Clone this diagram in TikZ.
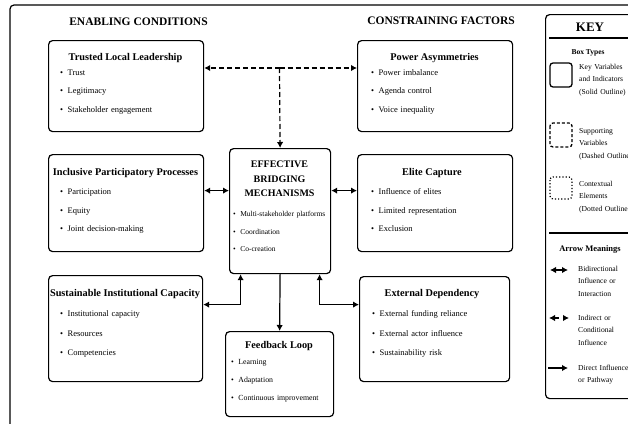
\documentclass[tikz,border=0pt]{standalone}
\usepackage{fontspec}
\setmainfont{Liberation Serif}
\usetikzlibrary{arrows.meta}
\newcommand{\bitem}{\textbullet\hspace{4.5pt}}

\begin{document}
\begin{tikzpicture}[x=1pt,y=-1pt,>={Latex[length=6pt,width=6.5pt]},
  varbox/.style={draw,line width=1.2pt,rounded corners=4pt,anchor=north west,inner sep=0pt},
  boxtitle/.style={font=\bfseries\fontsize{10.3}{14.5}\selectfont,anchor=base,inner sep=0pt},
  bullets/.style 2 args={font=\fontsize{#1}{#2}\selectfont,text width=140pt,align=left,anchor=base west,inner sep=0pt},
  heading/.style={font=\bfseries\fontsize{11.5}{13}\selectfont,anchor=base,inner sep=0pt},
  keytext/.style={font=\fontsize{7.6}{12.5}\selectfont,text width=80pt,align=left,anchor=base west,inner sep=0pt},
  link/.style={line width=1.2pt},
  sample/.style={line width=1.3pt,rounded corners=3pt}]
\useasboundingbox (0,0) rectangle (628,423);
\clip (0,0) rectangle (628,423);
\draw[line width=1.2pt,rounded corners=4pt] (10,5) rectangle (680,432);

\node[heading] (enab) at (138.5,25) {ENABLING CONDITIONS};
\node[heading] (cons) at (441,24) {CONSTRAINING FACTORS};

% enabling side
\node[varbox,minimum width=155pt,minimum height=91pt] (trust) at (48,40) {};
\node[boxtitle] (trustT) at (125.5,60.5) {Trusted Local Leadership};
\node[bullets={8.5}{18.5}] (trustL) at (60,75) {\bitem Trust\\\bitem Legitimacy\\\bitem Stakeholder engagement};

\node[varbox,minimum width=155pt,minimum height=97pt] (incl) at (48,154) {};
\node[boxtitle] (inclT) at (125.5,175.5) {Inclusive Participatory Processes};
\node[bullets={8.5}{18.5}] (inclL) at (60,194.5) {\bitem Participation\\\bitem Equity\\\bitem Joint decision-making};

\node[varbox,minimum width=154pt,minimum height=106pt] (sust) at (48,275) {};
\node[boxtitle] (sustT) at (125,296.5) {Sustainable Institutional Capacity};
\node[bullets={8.5}{19.5}] (sustL) at (60,316.5) {\bitem Institutional capacity\\\bitem Resources\\\bitem Competencies};

% constraining side
\node[varbox,minimum width=155pt,minimum height=91pt] (power) at (357,40) {};
\node[boxtitle] (powerT) at (434.5,60.5) {Power Asymmetries};
\node[bullets={8.5}{18.5}] (powerL) at (371,75) {\bitem Power imbalance\\\bitem Agenda control\\\bitem Voice inequality};

\node[varbox,minimum width=155pt,minimum height=97pt] (elite) at (357,154) {};
\node[boxtitle] (eliteT) at (432,175.5) {Elite Capture};
\node[bullets={8.5}{18.5}] (eliteL) at (371,194.5) {\bitem Influence of elites\\\bitem Limited representation\\\bitem Exclusion};

\node[varbox,minimum width=150pt,minimum height=105pt] (ext) at (359,276) {};
\node[boxtitle] (extT) at (432,296.5) {External Dependency};
\node[bullets={8.5}{19.5}] (extL) at (372,316.5) {\bitem External funding reliance\\\bitem External actor influence\\\bitem Sustainability risk};

% centre
\node[varbox,minimum width=101pt,minimum height=125pt] (ebm) at (229,148) {};
\node[boxtitle,font=\bfseries\fontsize{10}{14.5}\selectfont,text width=100pt,align=center] (ebmT) at (279.5,167.5) {EFFECTIVE\\BRIDGING\\MECHANISMS};
\node[bullets={7.5}{17.5}] (ebmL) at (233,216.5) {\bitem Multi-stakeholder platforms\\\bitem Coordination\\\bitem Co-creation};

\node[varbox,minimum width=108pt,minimum height=85pt] (fb) at (225,331) {};
\node[boxtitle] (fbT) at (279,348.5) {Feedback Loop};
\node[bullets={7.8}{18}] (fbL) at (231,364.5) {\bitem Learning\\\bitem Adaptation\\\bitem Continuous improvement};

% connectors
\coordinate (fork) at (279.5,68);
\draw[link,dash pattern=on 5pt off 3pt,->] (fork) -- (trust.east |- fork);
\draw[link,dash pattern=on 5pt off 3pt,->] (fork) -- (power.west |- fork);
\draw[link,dash pattern=on 5pt off 3pt,->] (fork) -- (ebm.north);
\draw[link,<->] ([yshift=12.5pt]incl.east) -- ([yshift=12.5pt]incl.east -| ebm.west);
\draw[link,<->] ([yshift=12.5pt]elite.west -| ebm.east) -- ([yshift=12.5pt]elite.west);
\draw[link,<->] ([xshift=-39.5pt]ebm.south) |- ([yshift=24pt]sust.east);
\draw[link,->] (ebm.south) -- (fb.north);
\draw[link,<->] ([xshift=39.5pt]ebm.south) |- ([yshift=24.5pt]ext.west);

% key
\node[varbox,minimum width=115pt,minimum height=384pt] (key) at (545,14) {};
\node[heading,font=\bfseries\fontsize{13}{15}\selectfont] (keyT) at (590,31.5) {KEY};
\draw[line width=1.2pt] (549,38) -- (660,38);
\node[heading,font=\bfseries\fontsize{7.5}{9}\selectfont] (boxT) at (588,54.5) {Box Types};
\draw[sample] (550,63) rectangle (572,87);
\node[keytext] (solidK) at (579,69) {Key Variables\\and Indicators\\(Solid Outline)};
\draw[sample,dash pattern=on 3pt off 2pt] (550,123) rectangle (572,147);
\node[keytext] (dashK) at (579,133) {Supporting\\Variables\\(Dashed Outline)};
\draw[sample,line width=1.2pt,dotted] (550,177) rectangle (572,199);
\node[keytext] (dotK) at (579,186) {Contextual\\Elements\\(Dotted Outline)};
\draw[line width=1.2pt] (549,233) -- (660,233);
\node[heading,font=\bfseries\fontsize{8.5}{10}\selectfont] (arrT) at (590,251) {Arrow Meanings};
\coordinate (bi1) at (550,270); \coordinate (bi2) at (568,270);
\draw[link,<->] (bi1) -- (bi2);
\node[keytext] (biK) at (578,271) {Bidirectional\\Influence or\\Interaction};
\coordinate (in1) at (549,318); \coordinate (in2) at (569,318);
\draw[link,dash pattern=on 5pt off 10pt,<->] (in1) -- (in2);
\node[keytext] (inK) at (578,320) {Indirect or\\Conditional\\Influence};
\coordinate (di1) at (548,368); \coordinate (di2) at (568,368);
\draw[link,->] (di1) -- (di2);
\node[keytext] (diK) at (578,370) {Direct Influence\\or Pathway};
\end{tikzpicture}
\end{document}
